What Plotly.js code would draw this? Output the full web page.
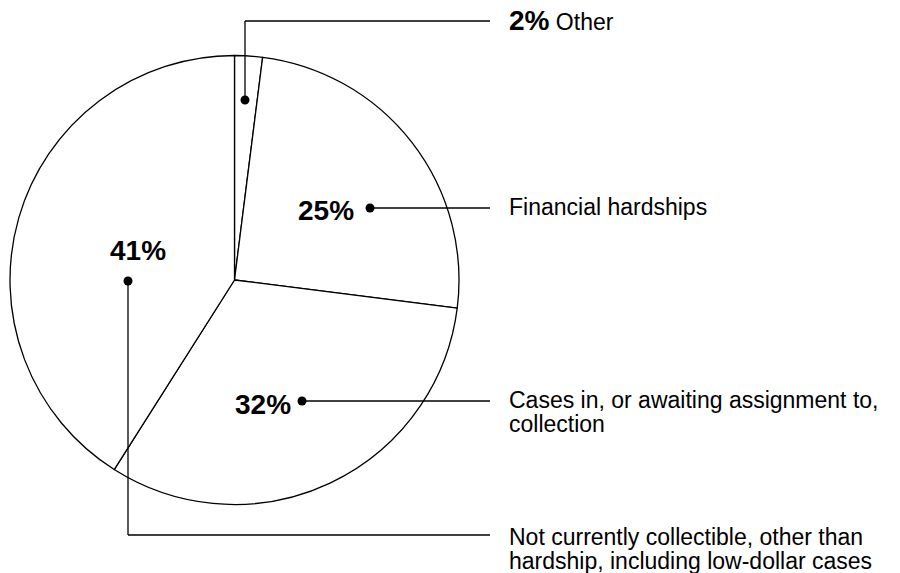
<!DOCTYPE html>
<html>
<head>
<meta charset="utf-8">
<script src="https://cdn.plot.ly/plotly-3.0.1.min.js"></script>
<style>html,body{margin:0;padding:0;background:#fff;}#chart{width:900px;height:573px;}</style>
</head>
<body>
<div id="chart"></div>
<script>
// Data
const categories = ["Other", "Financial hardships", "Cases in, or awaiting assignment to,<br>collection", "Not currently collectible, other than<br>hardship, including low-dollar cases"];
const values = [2, 25, 32, 41];
const pctLabels = ["2%", "25%", "32%", "41%"];

const W = 900, H = 573;
const px = x => x / W;
const py = y => 1 - y / H;
const FONT = '"Liberation Sans", Arial, Helvetica, sans-serif';

// pie geometry (pixels)
const cx = 234.5, cy = 280, R = 224.5;

const trace = {
  type: 'pie',
  values: values,
  labels: categories,
  sort: false,
  direction: 'clockwise',
  rotation: 0,
  textinfo: 'none',
  hoverinfo: 'none',
  showlegend: false,
  marker: { colors: values.map(() => '#ffffff'), line: { color: '#000000', width: 1.3 } },
  domain: { x: [px(cx - R), px(cx + R)], y: [py(cy + R), py(cy - R)] }
};

// leader dot positions and bends (pixels)
const dots = [[245, 100], [370, 208], [302, 401], [128, 281]];
const paths = [
  [[245, 100], [245, 21], [490, 21]],
  [[370, 208], [490, 208]],
  [[302, 401], [490, 401]],
  [[128, 281], [128, 535], [490, 535]]
];
const shapes = [];
paths.forEach(p => {
  for (let i = 0; i < p.length - 1; i++) {
    shapes.push({ type: 'line', xref: 'paper', yref: 'paper',
      x0: px(p[i][0]), y0: py(p[i][1]), x1: px(p[i + 1][0]), y1: py(p[i + 1][1]),
      line: { color: '#000', width: 1.3 } });
  }
});
const dr = 4.5;
dots.forEach(d => {
  shapes.push({ type: 'circle', xref: 'paper', yref: 'paper',
    x0: px(d[0] - dr), x1: px(d[0] + dr), y0: py(d[1] + dr), y1: py(d[1] - dr),
    fillcolor: '#000', line: { color: '#000', width: 0 } });
});

const annotations = [];
// bold percentages inside pie
const pctPos = [null, [326, 210], [263, 404], [138, 250]];
pctPos.forEach((p, i) => {
  if (!p) return;
  annotations.push({ xref: 'paper', yref: 'paper', x: px(p[0]), y: py(p[1]),
    text: '<b>' + pctLabels[i] + '</b>', showarrow: false, xanchor: 'center', yanchor: 'middle',
    font: { family: FONT, size: 28, color: '#000' } });
});
// right side labels
annotations.push({ xref: 'paper', yref: 'paper', x: px(507), y: py(21),
  text: '<b><span style="font-size:28px">' + pctLabels[0] + '</span></b> ' + categories[0],
  showarrow: false, xanchor: 'left', yanchor: 'middle',
  font: { family: FONT, size: 23, color: '#000' } });
const labTop = [null, 207, 400, 537];
const lineGap = 24;
labTop.forEach((y0, i) => {
  if (y0 === null) return;
  categories[i].split('<br>').forEach((line, k) => {
    annotations.push({ xref: 'paper', yref: 'paper', x: px(507), y: py(y0 + k * lineGap),
      text: line, showarrow: false, xanchor: 'left', yanchor: 'middle', align: 'left',
      font: { family: FONT, size: 23, color: '#000' } });
  });
});

const layout = {
  width: W, height: H,
  margin: { l: 0, r: 0, t: 0, b: 0 },
  paper_bgcolor: '#fff', plot_bgcolor: '#fff',
  shapes: shapes,
  annotations: annotations
};

Plotly.newPlot('chart', [trace], layout, { displayModeBar: false, staticPlot: true });
</script>
</body>
</html>
